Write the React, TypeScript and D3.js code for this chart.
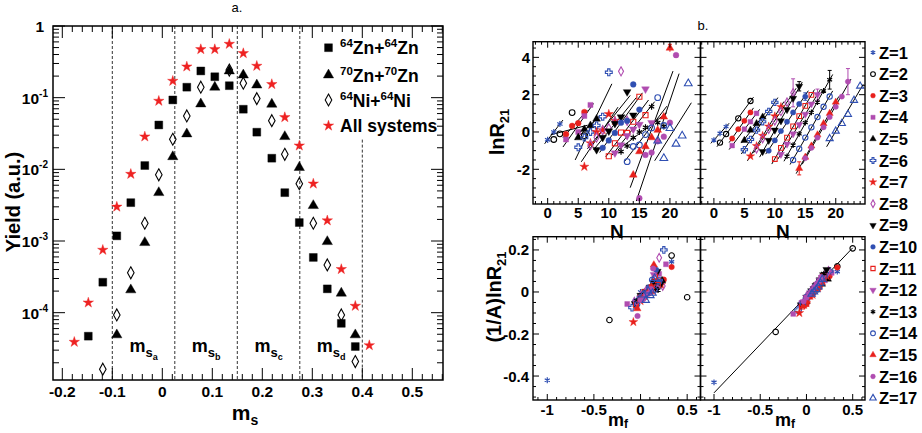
import React from "react";
import * as d3 from "d3";

const FONT = "'Liberation Sans', Arial, Helvetica, sans-serif";

// ---------- panel a: yield vs m_s ----------
const msBins = [-0.176, -0.148, -0.119, -0.091, -0.063, -0.035, -0.007, 0.021, 0.049, 0.077, 0.105,
  0.134, 0.162, 0.189, 0.219, 0.245, 0.274, 0.302, 0.33, 0.358, 0.386, 0.414];
const yieldAll = [3.9e-5, 1.38e-4, 7.5e-4, 3.0e-3, 8.6e-3, 0.0286, 0.09, 0.171, 0.271, 0.473, 0.473,
  0.561, 0.416, 0.277, 0.154, 0.0532, 0.0214, 6.3e-3, 1.93e-3, 4.04e-4, 1.24e-4, 3.5e-5];
const yieldZn64 = [null, 4.7e-5, 2.66e-4, 1.18e-3, 3.43e-3, 0.0113, 0.0416, 0.093, 0.14, 0.236, 0.196,
  0.147, 0.069, 0.033, 0.0143, 4.73e-3, 1.81e-3, 5.9e-4, 2.15e-4, 7.1e-5, 3.37e-5, null];
const yieldZn70 = [null, null, null, 4.9e-5, 2.08e-4, 9.5e-4, 4.73e-3, 0.015, 0.0312, 0.0817, 0.14,
  0.236, 0.207, 0.15, 0.081, 0.0286, 0.0106, 3.12e-3, 9.8e-4, 1.87e-4, 4.9e-5, null];
const yieldNi64 = [null, null, 1.63e-5, 9.3e-5, 3.6e-4, 1.77e-3, 8.4e-3, 0.0263, 0.0556, 0.14, null,
  0.243, 0.159, 0.097, 0.0478, 0.0162, 6.3e-3, 1.77e-3, 4.64e-4, 9.3e-5, 2.08e-5, null];
const msDividers = [-0.1, 0.025, 0.15, 0.275, 0.4];
const dividerTop = [1, 1, 1, 1, 0.026];
const msRegions = ["a", "b", "c", "d"];
const msTicks = [-0.2, -0.1, 0, 0.1, 0.2, 0.3, 0.4, 0.5];
const msTickLabels = ["-0.2", "-0.1", "0", "0.1", "0.2", "0.3", "0.4", "0.5"];
const yieldExp = [0, -1, -2, -3, -4];

// ---------- panel b: isoscaling ----------
const zList = [1, 2, 3, 4, 5, 6, 7, 8, 9, 10, 11, 12, 13, 14, 15, 16, 17];
const isoN = [
  [0, 1, 2], [1, 2, 4, 6], [3, 4, 5, 6], [3, 5, 6, 7], [5, 6, 7, 8],
  [5, 6, 7, 8, 9, 10], [6, 7, 8, 9, 10, 11], [7, 8, 9, 10, 11, 12, 13],
  [8, 9, 10, 11, 12, 13, 14], [9, 10, 11, 12, 13, 14, 15], [10, 11, 12, 13, 14, 15, 16],
  [11, 12, 13, 14, 15, 16, 17], [12, 13, 14, 15, 16, 17, 18, 19], [13, 14, 15, 16, 17, 18, 19],
  [14, 15, 16, 17, 18, 19, 20], [15, 16, 17, 18, 19, 20, 21, 22], [18, 19, 20, 21, 22, 23, 24],
];
const lnRLeft = [
  [-0.42, 0.0, 0.43], [-0.4, -0.1, 1.04, -0.2], [-0.12, 0.33, 0.47, 1.07], [-0.4, 0.0, 0.86, 1.45],
  [-0.3, 0.14, 0.35, 0.7], [-0.82, -0.3, 0.0, 0.35, 0.82, 3.2], [-1.86, -0.6, 0.0, 0.1, 0.96, 0.6],
  [-0.7, -0.3, 0.1, 0.2, 0.55, 3.25, 0.6], [-0.95, -0.3, 0.05, 0.45, 0.8, 2.15, 0.9],
  [-0.85, -0.45, -0.05, 0.5, 0.6, 2.55, 1.2], [-1.3, -0.61, -0.03, -0.05, 0.55, 1.89, 0.9],
  [-1.13, -0.7, -0.2, 0.15, 0.4, 2.3, 0.5], [-1.05, -0.75, -0.3, 0.0, 0.25, 1.36, 0.5, 0.3],
  [-1.59, -0.78, -0.7, -0.14, 0.22, 1.84, 0.35], [-2.3, -1.05, -0.78, -0.3, 0.1, 0.81, 4.5],
  [-3.55, -1.23, -1.1, -0.5, -0.25, 0.5, 4.12, null], [-0.47, -1.41, 0.2, -0.64, -0.2, 2.6, null],
];
const lnRRight = [
  [-0.43, -0.07, 0.29], [-0.57, -0.11, 0.73, 1.66], [-0.35, 0.15, 0.6, 1.05], [-0.73, 0.15, 0.55, 1.0],
  [-0.45, 0.1, 0.45, 0.8], [-0.95, -0.4, 0.1, 0.55, 1.1, 1.59], [-1.3, -0.75, -0.2, 0.3, 0.85, 1.35],
  [-0.9, -0.35, 0.15, 0.6, 1.1, 1.6, 2.1], [-1.05, -0.45, 0.1, 0.6, 1.2, 1.8, 2.45],
  [-1.0, -0.45, 0.05, 0.55, 1.05, 1.5, 1.9], [-1.45, -0.85, -0.3, 0.3, 0.85, 1.4, 1.99],
  [-1.2, -0.65, -0.1, 0.4, 0.95, 1.5, 2.0], [-1.3, -0.7, -0.1, 0.5, 1.05, 1.6, 2.2, 2.8],
  [-1.5, -0.9, -0.3, 0.25, 0.8, 1.35, 1.9], [-1.95, -1.35, -0.75, -0.15, 0.45, 1.0, 1.6],
  [-1.4, -0.85, -0.3, 0.25, 0.8, 1.35, 1.9, 2.7], [null, -0.35, 0.05, 0.46, 0.95, 1.7, 2.46],
];
const errZ = [8, 9, 10, 12, 13, 15, 16];
const errN = [13, 14, 15, 17, 19, 14, 22];
const errSize = [0.75, 0.25, 0.2, 0.3, 0.5, 0.35, 0.7];
const bottomFitMf = [-1, 0.5];
const bottomFitY = [-0.48, 0.21];

// styles per Z
const BLUE = "#2f4fb2", RED = "#e8201c", PURPLE = "#b04cb0", BLACK = "#000";
const zShape = ["asterisk", "circle", "circle", "square", "triangle", "cross", "star", "diamond", "tridown",
  "circle", "square", "tridown", "asterisk", "circle", "triangle", "circle", "triangle"];
const zColor = [BLUE, BLACK, RED, PURPLE, BLACK, BLUE, RED, PURPLE, BLACK, BLUE, RED, PURPLE, BLACK, BLUE, RED, PURPLE, BLUE];
const zFilled = [false, false, true, true, true, false, true, false, true, true, false, true, false, false, true, true, false];

const narrowDiamond = {
  draw(ctx: any, size: number) {
    const h = Math.sqrt(size) * 0.9;
    const w = h * 0.55;
    ctx.moveTo(0, -h); ctx.lineTo(w, 0); ctx.lineTo(0, h); ctx.lineTo(-w, 0); ctx.closePath();
  },
};

function symType(shape: string): any {
  const s: any = d3;
  switch (shape) {
    case "asterisk": return s.symbolAsterisk || d3.symbolCross;
    case "circle": return d3.symbolCircle;
    case "square": return d3.symbolSquare;
    case "triangle": case "tridown": return d3.symbolTriangle;
    case "cross": return d3.symbolCross;
    case "star": return d3.symbolStar;
    case "diamond": return narrowDiamond;
  }
  return d3.symbolCircle;
}

function Marker({ x, y, shape, color, filled, size }: any) {
  const d = d3.symbol().type(symType(shape)).size(size)() as string;
  const rot = shape === "tridown" ? " rotate(180)" : "";
  const stroked = shape === "asterisk";
  return (
    <path d={d} transform={`translate(${x},${y})${rot}`}
      fill={filled && !stroked ? color : "none"} stroke={color}
      strokeWidth={stroked ? 1.2 : filled ? 0.4 : 1.1} />
  );
}

function fit(xs: number[], ys: number[]) {
  const mx = d3.mean(xs) as number, my = d3.mean(ys) as number;
  let sxy = 0, sxx = 0;
  xs.forEach((x, i) => { sxy += (x - mx) * (ys[i] - my); sxx += (x - mx) * (x - mx); });
  const b = sxx ? sxy / sxx : 0;
  return [b, my - b * mx];
}

function range(a: number, b: number, step: number) {
  const out: number[] = [];
  for (let v = a; v <= b + 1e-9; v += step) out.push(+v.toFixed(6));
  return out;
}

type Box = { x0: number; x1: number; y0: number; y1: number };

function Ticks({ box, xs, ys, xMaj, xMin, yMaj, yMin, maj, min }: any) {
  const segs: string[] = [];
  const inX = (v: number) => xs(v) >= box.x0 - 0.1 && xs(v) <= box.x1 + 0.1;
  const inY = (v: number) => ys(v) >= box.y0 - 0.1 && ys(v) <= box.y1 + 0.1;
  const isMaj = (arr: number[], v: number) => arr.some((m) => Math.abs(m - v) < 1e-9);
  xMin.filter(inX).forEach((v: number) => {
    const L = isMaj(xMaj, v) ? maj : min;
    const px = xs(v);
    segs.push(`M${px},${box.y1}v${-L}`, `M${px},${box.y0}v${L}`);
  });
  yMin.filter(inY).forEach((v: number) => {
    const L = isMaj(yMaj, v) ? maj : min;
    const py = ys(v);
    segs.push(`M${box.x0},${py}h${L}`, `M${box.x1},${py}h${-L}`);
  });
  return <path d={segs.join("")} stroke="#000" strokeWidth={1} fill="none" />;
}

export default function App() {
  // ----- panel a scales
  const A: Box = { x0: 53, x1: 443, y0: 26, y1: 380 };
  const xA = d3.scaleLinear().domain([-0.2186, 0.5614]).range([A.x0, A.x1]);
  const yA = d3.scaleLog().domain([1.15e-5, 1]).range([A.y1, A.y0]);
  const logMinor: number[] = [];
  for (let e = -5; e <= 0; e++) for (let k = 1; k <= 9; k++) {
    const v = k * Math.pow(10, e);
    if (v >= 1.15e-5 && v <= 1) logMinor.push(v);
  }
  const logMajor = yieldExp.map((e) => Math.pow(10, e));
  const logTicks = (() => {
    const segs: string[] = [];
    logMinor.forEach((v) => {
      const isM = logMajor.some((m) => Math.abs(Math.log10(m) - Math.log10(v)) < 1e-6);
      const L = isM ? 12 : 6;
      const py = yA(v);
      segs.push(`M${A.x0},${py}h${L}`, `M${A.x1},${py}h${-L}`);
    });
    range(-0.2, 0.56, 0.02).forEach((v) => {
      const isM = msTicks.some((m) => Math.abs(m - v) < 1e-6);
      const L = isM ? 12 : 6;
      const px = xA(v);
      if (px < A.x0 || px > A.x1) return;
      segs.push(`M${px},${A.y1}v${-L}`, `M${px},${A.y0}v${L}`);
    });
    return segs.join("");
  })();

  const seriesA = [
    { vals: yieldZn64, shape: "square", size: 62 },
    { vals: yieldZn70, shape: "triangle", size: 46 },
    { vals: yieldNi64, shape: "diamond", size: 44 },
    { vals: yieldAll, shape: "star", size: 34 },
  ];
  const seriesColor = [BLACK, BLACK, BLACK, "#ee2222"];
  const seriesFilled = [true, true, false, true];

  // ----- panel b scales
  const TL: Box = { x0: 533, x1: 700.5, y0: 41.7, y1: 204 };
  const TR: Box = { x0: 700.5, x1: 865, y0: 41.7, y1: 204 };
  const BL: Box = { x0: 533, x1: 700.5, y0: 236.7, y1: 400 };
  const BR: Box = { x0: 700.5, x1: 865, y0: 236.7, y1: 400 };
  const xTL = d3.scaleLinear().domain([-2.4, 25]).range([TL.x0, TL.x1]);
  const xTR = d3.scaleLinear().domain([-2.2, 24.8]).range([TR.x0, TR.x1]);
  const yT = d3.scaleLinear().domain([-3.86, 4.84]).range([TL.y1, TL.y0]);
  const xBL = d3.scaleLinear().domain([-1.153, 0.643]).range([BL.x0, BL.x1]);
  const xBR = d3.scaleLinear().domain([-1.146, 0.633]).range([BR.x0, BR.x1]);
  const yB = d3.scaleLinear().domain([-0.514, 0.263]).range([BL.y1, BL.y0]);

  const topPanels = [
    { box: TL, xs: xTL, vals: lnRLeft, clip: "cTL", bx: xBL, bbox: BL, bclip: "cBL", mfX: 618 },
    { box: TR, xs: xTR, vals: lnRRight, clip: "cTR", bx: xBR, bbox: BR, bclip: "cBR", mfX: 785 },
  ];

  const tf = { fontFamily: FONT, fontWeight: 700 } as any;

  return (
    <svg width={922} height={433} style={{ position: "absolute", left: 0, top: 0, background: "#fff" }}>
      <defs>
        {[["cA", A], ["cTL", TL], ["cTR", TR], ["cBL", BL], ["cBR", BR]].map(([id, b]: any) => (
          <clipPath id={id} key={id}><rect x={b.x0} y={b.y0} width={b.x1 - b.x0} height={b.y1 - b.y0} /></clipPath>
        ))}
      </defs>
      <rect width={922} height={433} fill="#fff" />

      {/* ================= panel a ================= */}
      <text x={237} y={12} fontFamily={FONT} fontSize={13} textAnchor="middle">a.</text>
      <g clipPath="url(#cA)">
        {msDividers.map((v, i) => (
          <line key={i} x1={xA(v)} x2={xA(v)} y1={yA(dividerTop[i])} y2={A.y1}
            stroke="#333" strokeWidth={1} strokeDasharray="3,2" />
        ))}
        {seriesA.map((s, si) =>
          s.vals.map((v, i) => v == null ? null : (
            <Marker key={si + "-" + i} x={xA(msBins[i])} y={yA(v)} shape={s.shape}
              color={seriesColor[si]} filled={seriesFilled[si]} size={s.size} />
          ))
        )}
      </g>
      {msRegions.map((r, i) => (
        <text key={r} x={xA((msDividers[i] + msDividers[i + 1]) / 2)} y={yA(2.8e-5)} textAnchor="middle" {...tf} fontSize={18}>
          m<tspan fontSize={13} dy={5}>s</tspan><tspan fontSize={9} dy={3}>{r}</tspan>
        </text>
      ))}
      <rect x={A.x0} y={A.y0} width={A.x1 - A.x0} height={A.y1 - A.y0} fill="none" stroke="#000" strokeWidth={1.5} />
      <path d={logTicks} stroke="#000" strokeWidth={1} fill="none" />
      {msTicks.map((v, i) => (
        <text key={v} x={xA(v)} y={397} textAnchor="middle" {...tf} fontSize={15.5}>{msTickLabels[i]}</text>
      ))}
      {yieldExp.map((e) => (
        e === 0
          ? <text key={e} x={44} y={yA(1) + 6} textAnchor="end" {...tf} fontSize={15.5}>1</text>
          : <text key={e} x={48} y={yA(Math.pow(10, e)) + 6} textAnchor="end" {...tf} fontSize={15.5}>
            10<tspan fontSize={10} dy={-7}>{e}</tspan>
          </text>
      ))}
      <text transform="translate(20,202) rotate(-90)" textAnchor="middle" {...tf} fontSize={20}>Yield (a.u.)</text>
      <text x={245} y={420} textAnchor="middle" {...tf} fontSize={21}>
        m<tspan fontSize={14} dy={5}>s</tspan>
      </text>
      {/* legend a */}
      {[
        { sup1: "64", a: "Zn+", sup2: "64", b: "Zn" },
        { sup1: "70", a: "Zn+", sup2: "70", b: "Zn" },
        { sup1: "64", a: "Ni+", sup2: "64", b: "Ni" },
        { sup1: "", a: "All systems", sup2: "", b: "" },
      ].map((l, i) => {
        const ly = [47.7, 75, 100, 125.7][i];
        return (
          <g key={i}>
            <Marker x={328.5} y={ly} shape={seriesA[i].shape} color={seriesColor[i]} filled={seriesFilled[i]} size={seriesA[i].size} />
            <text x={340} y={ly + 6.5} {...tf} fontSize={17.5}>
              {l.sup1 ? <tspan fontSize={11.5} dy={-7}>{l.sup1}</tspan> : null}
              <tspan dy={l.sup1 ? 7 : 0}>{l.a}</tspan>
              {l.sup2 ? <tspan fontSize={11.5} dy={-7}>{l.sup2}</tspan> : null}
              {l.b ? <tspan dy={7}>{l.b}</tspan> : null}
            </text>
          </g>
        );
      })}

      {/* ================= panel b ================= */}
      <text x={703} y={30} fontFamily={FONT} fontSize={13} textAnchor="middle">b.</text>
      {topPanels.map((p, pi) => (
        <g key={pi}>
          {/* top: lnR21 vs N */}
          <g clipPath={`url(#${p.clip})`}>
            {zList.map((z, zi) => {
              const pts = isoN[zi].map((n, k) => [n, p.vals[zi][k]]).filter((d) => d[1] != null) as number[][];
              if (pts.length < 2) return null;
              const [b, a] = fit(pts.map((d) => d[0]), pts.map((d) => d[1]));
              const n0 = d3.min(pts, (d) => d[0])! - 0.5, n1 = d3.max(pts, (d) => d[0])! + 0.5;
              return <line key={"l" + z} x1={p.xs(n0)} y1={yT(a + b * n0)} x2={p.xs(n1)} y2={yT(a + b * n1)} stroke="#000" strokeWidth={1} />;
            })}
            {pi === 1 && errZ.map((z, i) => {
              const k = isoN[z - 1].indexOf(errN[i]);
              const v = lnRRight[z - 1][k] as number;
              const px = p.xs(errN[i]);
              return (
                <path key={"e" + i} d={`M${px},${yT(v - errSize[i])}V${yT(v + errSize[i])}M${px - 2},${yT(v + errSize[i])}h4M${px - 2},${yT(v - errSize[i])}h4`}
                  stroke={zColor[z - 1]} strokeWidth={1} />
              );
            })}
            {pi === 0 && (
              <path d={`M${p.xs(20)},${yT(4.3)}V${yT(4.7)}M${p.xs(20) - 2},${yT(4.7)}h4`} stroke={RED} strokeWidth={1} />
            )}
            {zList.map((z, zi) => isoN[zi].map((n, k) => {
              const v = p.vals[zi][k];
              if (v == null) return null;
              return <Marker key={z + "-" + n} x={p.xs(n)} y={yT(v)} shape={zShape[zi]} color={zColor[zi]} filled={zFilled[zi]} size={pi === 0 ? 26 : 22} />;
            }))}
          </g>
          <rect x={p.box.x0} y={p.box.y0} width={p.box.x1 - p.box.x0} height={p.box.y1 - p.box.y0} fill="none" stroke="#000" strokeWidth={1.4} />
          <Ticks box={p.box} xs={p.xs} ys={yT} xMaj={[0, 5, 10, 15, 20]} xMin={range(-2, 24, 1)}
            yMaj={[-2, 0, 2, 4]} yMin={range(-3.5, 4.5, 0.5)} maj={6} min={3} />
          {[0, 5, 10, 15, 20].map((v) => (
            <text key={v} x={p.xs(v)} y={218} textAnchor="middle" {...tf} fontSize={15}>{v}</text>
          ))}
          <text x={(p.box.x0 + p.box.x1) / 2} y={238} textAnchor="middle" {...tf} fontSize={19}>N</text>

          {/* bottom: (1/A) lnR21 vs m_f */}
          <g clipPath={`url(#${p.bclip})`}>
            {pi === 1 && (
              <line x1={p.bx(bottomFitMf[0])} y1={yB(bottomFitY[0])} x2={p.bx(bottomFitMf[1])} y2={yB(bottomFitY[1])} stroke="#000" strokeWidth={1} />
            )}
            {zList.map((z, zi) => isoN[zi].map((n, k) => {
              const v = p.vals[zi][k];
              if (v == null) return null;
              const A_ = n + z;
              return <Marker key={z + "-" + n} x={p.bx((n - z) / A_)} y={yB(v / A_)} shape={zShape[zi]} color={zColor[zi]} filled={zFilled[zi]} size={24} />;
            }))}
          </g>
          <rect x={p.bbox.x0} y={p.bbox.y0} width={p.bbox.x1 - p.bbox.x0} height={p.bbox.y1 - p.bbox.y0} fill="none" stroke="#000" strokeWidth={1.4} />
          <Ticks box={p.bbox} xs={p.bx} ys={yB} xMaj={[-1, -0.5, 0, 0.5]} xMin={range(-1.1, 0.6, 0.1)}
            yMaj={[-0.4, -0.2, 0, 0.2]} yMin={range(-0.5, 0.25, 0.05)} maj={6} min={3} />
          {[-1, -0.5, 0, 0.5].map((v) => (
            <text key={v} x={p.bx(v)} y={415} textAnchor="middle" {...tf} fontSize={15}>{v}</text>
          ))}
          <text x={p.mfX} y={426} textAnchor="middle" {...tf} fontSize={18}>
            m<tspan fontSize={12} dy={2}>f</tspan>
          </text>
        </g>
      ))}
      {[4, 2, 0, -2].map((v) => (
        <text key={v} x={530} y={yT(v) + 5.5} textAnchor="end" {...tf} fontSize={15}>{v}</text>
      ))}
      {[0.2, 0, -0.2, -0.4].map((v) => (
        <text key={v} x={529} y={yB(v) + 5.5} textAnchor="end" {...tf} fontSize={15}>{v}</text>
      ))}
      <text transform="translate(504,132) rotate(-90)" textAnchor="middle" {...tf} fontSize={20}>
        lnR<tspan fontSize={13} dy={5}>21</tspan>
      </text>
      <text transform="translate(501,297) rotate(-90)" textAnchor="middle" {...tf} fontSize={20}>
        (1/A)lnR<tspan fontSize={13} dy={5}>21</tspan>
      </text>
      {/* legend b */}
      {zList.map((z, zi) => {
        const ly = 52.5 + zi * 21.6;
        return (
          <g key={z}>
            <Marker x={873} y={ly} shape={zShape[zi]} color={zColor[zi]} filled={zFilled[zi]} size={18} />
            <text x={879} y={ly + 6} {...tf} fontSize={16.5}>Z={z}</text>
          </g>
        );
      })}
    </svg>
  );
}
